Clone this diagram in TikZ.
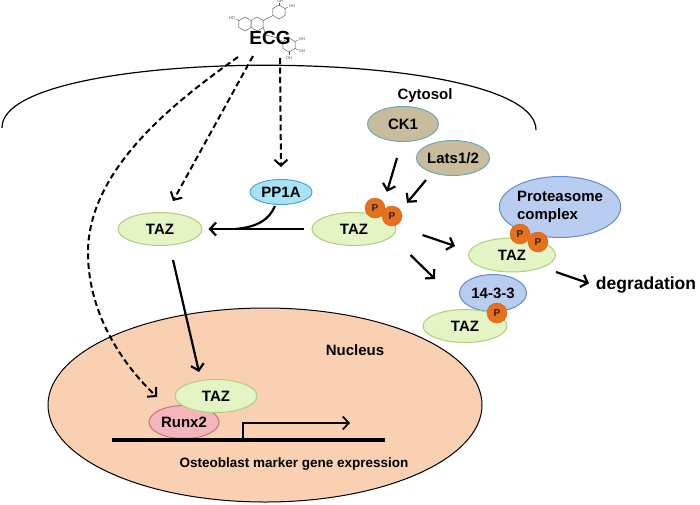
\documentclass[tikz,border=0pt]{standalone}
\usepackage{fontspec}
\setmainfont{Liberation Sans}
\usetikzlibrary{arrows.meta,positioning,calc,shapes.geometric}
\definecolor{tazfill}{HTML}{E4F4C4}
\definecolor{tazline}{HTML}{B0CF7A}
\definecolor{kinfill}{HTML}{C9BC9C}
\definecolor{kinline}{HTML}{6AAAB5}
\definecolor{blufill}{HTML}{B9CDF0}
\definecolor{bluline}{HTML}{5F8ECF}
\definecolor{ppfill}{HTML}{A9E3F6}
\definecolor{ppline}{HTML}{4AA6D0}
\definecolor{runxfill}{HTML}{F4B6BC}
\definecolor{runxline}{HTML}{C9737F}
\definecolor{nucfill}{HTML}{F9D1B2}
\definecolor{porange}{HTML}{E8701C}
\newcommand{\lbl}{\fontsize{15}{18}\selectfont\bfseries}
\newcommand{\hexring}[2]{\draw[mol] (#1,#2) +(30:7) -- +(90:7) -- +(150:7) -- +(210:7) -- +(270:7) -- +(330:7) -- cycle;}

\begin{document}
\begin{tikzpicture}[x=1pt,y=-1pt]
\tikzset{oval/.style={ellipse, line width=1pt, inner sep=0pt, font=\lbl}}
\tikzset{taz/.style={oval, fill=tazfill, draw=tazline, minimum width=84pt, minimum height=33pt}}
\tikzset{kin/.style={oval, fill=kinfill, draw=kinline, minimum width=71pt, minimum height=35pt}}
\tikzset{blu/.style={oval, fill=blufill, draw=bluline}}
\tikzset{phos/.style={circle, fill=porange, draw=porange!90!black, minimum size=20pt, inner sep=0pt,
  font=\fontsize{10}{10}\selectfont\bfseries, text=black!85}}
\tikzset{arr/.style={line width=2.2pt, -{Straight Barb[length=6pt,width=13pt]}}}
\tikzset{dasharr/.style={line width=2pt, dash pattern=on 6pt off 3.5pt, -{Straight Barb[length=6pt,width=13pt]}}}
\tikzset{mol/.style={draw=black!70, line width=0.4pt}}
\tikzset{molt/.style={font=\fontsize{4}{4}\selectfont, inner sep=0pt, text=black!70}}
\useasboundingbox (0,0) rectangle (700,504);

\draw[line width=1.2pt] (2,128) .. controls (0,44) and (536,44) .. (536,130);

\node[ellipse, draw, fill=nucfill, line width=1pt, minimum width=434pt, minimum height=194pt] (nuc) at (265,405) {};

\hexring{245}{24}
\hexring{257.1}{24}
\hexring{279}{12}
\hexring{289}{45}
\draw[mol] (263.1,20.5) -- (273,15.5);
\draw[mol] (263.1,27.5) -- (266,35) -- (274,37) -- (283,41.5);
\draw[mol] (238.9,20.5) -- (236,19);
\draw[mol] (279,5) -- (279,3);
\draw[mol] (285.1,8.5) -- (288,7);
\draw[mol] (295.1,41.5) -- (298,40);
\draw[mol] (295.1,48.5) -- (298,50);
\draw[mol] (289,52) -- (289,55);
\node[molt] (h1) at (232,18) {HO};
\node[molt] (h2) at (280,1.5) {OH};
\node[molt] (h3) at (292,6) {OH};
\node[molt] (h4) at (302,39) {OH};
\node[molt] (h5) at (302,51) {OH};
\node[molt] (h6) at (289,58) {OH};
\node[font=\fontsize{19}{22}\selectfont\bfseries] (ecg) at (270,38) {ECG};
\coordinate (e1) at (238,57);
\coordinate (e2) at (253,56);
\coordinate (e3) at (280,58);

\node[font=\lbl] (cyto) at (425,96) {Cytosol};
\node[font=\lbl] (nuclbl) at (355,350) {Nucleus};
\node[font=\fontsize{13.5}{16}\selectfont\bfseries] (osteo) at (294,464) {Osteoblast marker gene expression};
\node[font=\fontsize{17.5}{20}\selectfont\bfseries, inner sep=2pt] (deg) at (646,285) {degradation};

\node[oval, fill=ppfill, draw=ppline, minimum width=62pt, minimum height=25pt] (pp1a) at (281,192) {PP1A};
\node[taz] (tazl) at (160,229) {TAZ};
\node[taz] (tazp) at (354,229) {TAZ};
\node[kin] (ck1) at (403,124) {CK1};
\node[kin] (lats) at (453,158) {Lats1/2};
\node[blu, minimum width=115pt, minimum height=61pt, align=left, font=\fontsize{15}{18}\selectfont\bfseries] (prot) at (560,207) {Proteasome\\complex};
\node[taz, minimum width=87pt, minimum height=34pt] (tazdeg) at (512,255) {TAZ};
\node[blu, minimum width=67pt, minimum height=37pt] (f1433) at (493,293) {14-3-3};
\node[taz] (tazb) at (465,326) {TAZ};
\node[phos] (p1) at (375,208) {P};
\node[phos] (p2) at (392,216) {P};
\node[phos] (p3) at (520,234) {P};
\node[phos] (p4) at (538,242) {P};
\node[phos] (p5) at (497,313) {P};

\node[oval, fill=runxfill, draw=runxline, minimum width=70pt, minimum height=33pt] (runx) at (184,422) {Runx2};
\node[taz, minimum width=82pt] (tazn) at (216,396) {TAZ};
\coordinate (dnaL) at (112,440);
\coordinate (dnaR) at (385,440);
\coordinate (tss) at (243,440);
\coordinate (tsse) at (350,423);
\draw[line width=4.5pt] (dnaL) -- (dnaR);
\draw[arr, line width=1.8pt] (tss) |- (tsse);

\draw[dasharr] (e1) .. controls (170,105) and (90,170) .. (88,250) .. controls (87,310) and (120,362) .. ([shift={(-27,-8)}]runx.north);
\draw[dasharr] (e2) -- ([shift={(13,-11)}]tazl.north);
\draw[dasharr] (e3) -- ([shift={(0,-12)}]pp1a.north);

\draw[arr, shorten <=8pt, shorten >=6pt] (tazp.west) -- (tazl.east);
\coordinate (join) at ($(tazl.east)!0.3!(tazp.west)$);
\draw[line width=2.2pt] ([shift={(-6,1)}]pp1a.south) .. controls +(-6,14) and +(22,-2) .. (join);
\draw[arr] ([shift={(13,14)}]tazl.south) -- ([shift={(-17,-7)}]tazn.north);
\draw[arr] ([shift={(-6,16)}]ck1.south) -- ([shift={(12,-6)}]p1.north);
\draw[arr] ([shift={(-27,4)}]lats.south) -- ([shift={(15,-3)}]p2.north);
\draw[arr] ([shift={(26,6)}]tazp.east) -- ([shift={(-13,-9)}]tazdeg.west);
\draw[arr] ([shift={(14,26)}]tazp.east) -- ([shift={(-30,-30)}]tazb.north);
\draw[arr, shorten >=5pt] ([shift={(0,17)}]tazdeg.east) -- (deg.west);
\end{tikzpicture}
\end{document}
